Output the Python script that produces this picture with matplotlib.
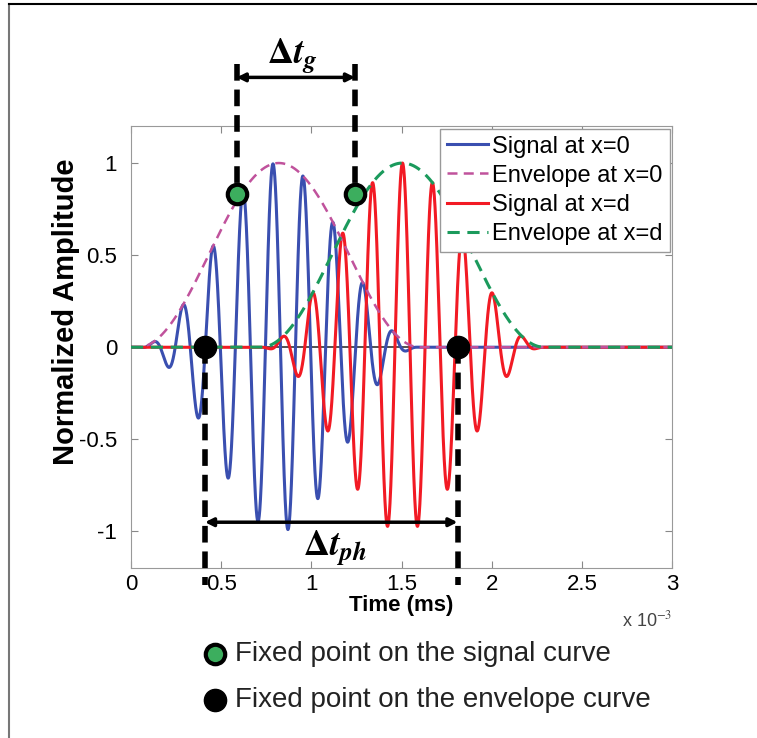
#!/usr/bin/env python3
"""Tone burst at x=0 and x=d: group delay vs phase delay sketch."""

import numpy as np
import matplotlib
matplotlib.use("Agg")
import matplotlib.pyplot as plt
from matplotlib.lines import Line2D

plt.rcParams["font.family"] = ["Liberation Sans", "DejaVu Sans"]
plt.rcParams["mathtext.fontset"] = "stix"

# burst parameters (time in ms)
burst_start = [0.04, 0.72]      # envelope start, x=0 and x=d
burst_length = [1.56, 1.57]     # envelope duration
peak_time = [0.787, 1.505]      # time of the carrier crest nearest the centre
carrier_khz = 6.0               # carrier frequency
series_labels = ["Signal at x=0", "Envelope at x=0", "Signal at x=d", "Envelope at x=d"]

# fixed points
green_t = [0.586, 1.242]
green_y = [0.83, 0.83]
black_t = [0.41, 1.81]
black_y = [0.0, 0.0]

x_ticks = [0, 0.5, 1, 1.5, 2, 2.5, 3]
y_ticks = [-1, -0.5, 0, 0.5, 1]

BLUE = "#3a4fb0"
RED = "#f21a24"
MAGENTA = "#c0529c"
GREEN = "#1b9a5c"


def tone_burst(t, start, length, t_peak, f_khz):
    u = (t - start) / length
    env = np.where((u >= 0) & (u <= 1), np.sin(np.pi * np.clip(u, 0, 1)) ** 2, 0.0)
    return env, env * np.cos(2 * np.pi * f_khz * (t - t_peak))


def main() -> None:
    fig = plt.figure(figsize=(7.57, 7.38), dpi=100)
    ax = fig.add_axes([0.173, 0.230, 0.715, 0.599])

    t = np.linspace(0, 3, 6000)
    env0, sig0 = tone_burst(t, burst_start[0], burst_length[0], peak_time[0], carrier_khz)
    env1, sig1 = tone_burst(t, burst_start[1], burst_length[1], peak_time[1], carrier_khz)

    ax.axhline(0, color="#333333", lw=1.2, zorder=1)
    ax.plot(t, sig0, color=BLUE, lw=2.2, label=series_labels[0], zorder=3)
    ax.plot(t, env0, color=MAGENTA, lw=1.8, ls=(0, (4, 2.5)), label=series_labels[1], zorder=4)
    ax.plot(t, sig1, color=RED, lw=2.2, label=series_labels[2], zorder=3)
    ax.plot(t, env1, color=GREEN, lw=2.2, ls=(0, (4, 2.5)), label=series_labels[3], zorder=4)

    ax.set_xlim(0, 3)
    ax.set_ylim(-1.2, 1.2)
    ax.set_xticks(x_ticks)
    ax.set_yticks(y_ticks)
    ax.set_xticklabels([f"{v:g}" for v in x_ticks])
    ax.set_yticklabels([f"{v:g}" for v in y_ticks])
    ax.tick_params(direction="in", top=True, right=True, labelsize=16,
                   length=5, color="#888888")
    ax.tick_params(axis="x", pad=4)
    ax.tick_params(axis="y", pad=10)
    for sp in ax.spines.values():
        sp.set_color("#999999")
    ax.set_xlabel("Time (ms)", fontsize=16, fontweight="bold", labelpad=0)
    ax.set_ylabel("Normalized Amplitude", fontsize=21, fontweight="bold")
    ax.yaxis.set_label_coords(-0.095, 0.58)
    ax.text(1.0, -0.095, r"x 10$^{-3}$", transform=ax.transAxes, ha="right",
            va="top", fontsize=13, color="#444444")

    leg = ax.legend(loc="upper right", fontsize=17, handlelength=1.7, handletextpad=0.2,
                    borderaxespad=0.1, borderpad=0.3, labelspacing=0.3,
                    fancybox=False, framealpha=1)
    leg.get_frame().set_edgecolor("#999999")
    leg.get_frame().set_linewidth(1.0)

    # delta t_g construction (above the axes)
    for tx, ty in zip(green_t, green_y):
        ax.plot([tx, tx], [1.54, ty], color="black", lw=4, ls=(0, (3, 1.6)),
                clip_on=False, zorder=6)
    ax.annotate("", xy=(green_t[1], 1.465), xytext=(green_t[0], 1.465),
                arrowprops=dict(arrowstyle="<|-|>", color="black", lw=2.5,
                                mutation_scale=12, shrinkA=0, shrinkB=0),
                annotation_clip=False, zorder=7)
    ax.text(np.mean(green_t) - 0.02, 1.58, r"$\mathbf{\Delta}\mathbfit{t_g}$", ha="center",
            va="center", fontsize=26, clip_on=False)

    # delta t_ph construction (below)
    for tx, ty in zip(black_t, black_y):
        ax.plot([tx, tx], [ty, -1.29], color="black", lw=4, ls=(0, (3, 1.6)),
                clip_on=False, zorder=6)
    ax.annotate("", xy=(black_t[1], -0.95), xytext=(black_t[0], -0.95),
                arrowprops=dict(arrowstyle="<|-|>", color="black", lw=2.5,
                                mutation_scale=12, shrinkA=0, shrinkB=0),
                annotation_clip=False, zorder=7)
    ax.text(1.13, -1.09, r"$\mathbf{\Delta}\mathbfit{t_{ph}}$", ha="center",
            va="center", fontsize=26)

    ax.plot(green_t, green_y, "o", ms=14, mfc="#3cae5e", mec="black", mew=3,
            clip_on=False, zorder=8)
    ax.plot(black_t, black_y, "o", ms=16, mfc="black", mec="black", clip_on=False, zorder=8)

    # key for fixed points below the axes
    fig.add_artist(Line2D([0.284], [0.114], marker="o", ms=14, mfc="#3cae5e",
                          mec="black", mew=3, transform=fig.transFigure))
    fig.add_artist(Line2D([0.284], [0.051], marker="o", ms=16, mfc="black",
                          mec="black", transform=fig.transFigure))
    fig.text(0.31, 0.114, "Fixed point on the signal curve", fontsize=20,
             va="center", color="#222222")
    fig.text(0.31, 0.051, "Fixed point on the envelope curve", fontsize=20,
             va="center", color="#222222")

    # figure frame (left and top edges)
    fig.add_artist(Line2D([0.012, 0.012], [0.0, 0.995], color="#777777", lw=1.5,
                          transform=fig.transFigure))
    fig.add_artist(Line2D([0.012, 1.0], [0.995, 0.995], color="black", lw=1.5,
                          transform=fig.transFigure))

    fig.savefig("out.png", dpi=100)
    plt.close(fig)


if __name__ == "__main__":
    main()
